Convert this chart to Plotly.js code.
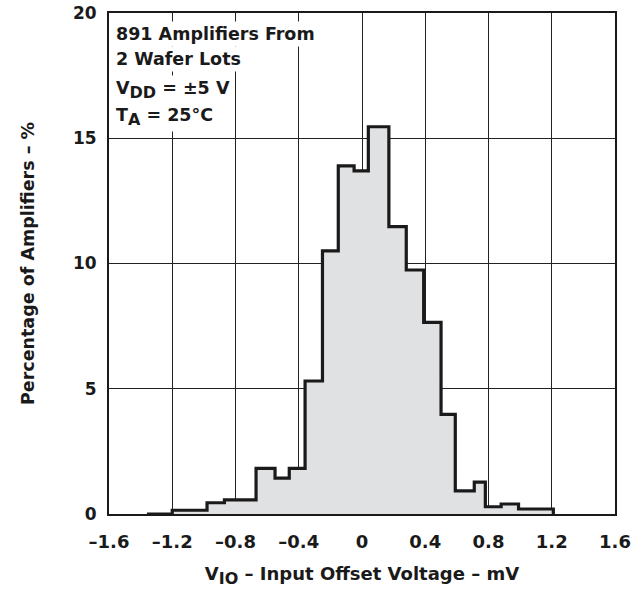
<!DOCTYPE html>
<html>
<head>
<meta charset="utf-8">
<script src="https://cdn.plot.ly/plotly-3.0.1.min.js"></script>
<style>html,body{margin:0;padding:0;background:#fff;}#chart{width:641px;height:593px;}</style>
</head>
<body>
<div id="chart"></div>
<script>
// Bin edges (mV)
const binEdges = [-1.36, -1.20, -0.98, -0.87, -0.67, -0.55, -0.46, -0.36, -0.25, -0.15, -0.05, 0.04, 0.17, 0.28, 0.39, 0.50, 0.59, 0.71, 0.78, 0.88, 0.99, 1.21];
// Percentage of amplifiers in each bin
const percentages = [0, 0.15, 0.45, 0.56, 1.82, 1.43, 1.82, 5.31, 10.5, 13.9, 13.7, 15.46, 11.47, 9.74, 7.65, 3.98, 0.92, 1.27, 0.29, 0.40, 0.20];
const xTickVals = [-1.6, -1.2, -0.8, -0.4, 0, 0.4, 0.8, 1.2, 1.6];
const xTickText = ["\u20131.6", "\u20131.2", "\u20130.8", "\u20130.4", "0", "0.4", "0.8", "1.2", "1.6"];
const yTickVals = [0, 5, 10, 15, 20];
const SUB = (s) => "<sub><span style='font-size:16px'>" + s + "</span></sub>";
const noteLines = ["891 Amplifiers From", "2 Wafer Lots", "V" + SUB("DD") + " = \u00b15 V", "T" + SUB("A") + " = 25\u00b0C"];

const xs = [binEdges[0]].concat(binEdges);
const ys = [0].concat(percentages).concat([0]);

const FONT = "DejaVu Sans";
const trace = {
  x: xs, y: ys, type: "scatter", mode: "lines",
  line: {shape: "hv", color: "#1a1a1a", width: 3.2},
  fill: "tozeroy", fillcolor: "#e0e1e3",
  hoverinfo: "skip", showlegend: false
};

const noteY = [0.958, 0.908, 0.846, 0.792];
const annotations = noteLines.map((t, i) => ({
  text: t, xref: "paper", yref: "paper", x: 0.008, y: noteY[i],
  xanchor: "left", yanchor: "middle", showarrow: false, align: "left",
  bgcolor: "#ffffff", borderpad: 2,
  font: {family: FONT, size: 17.5, weight: "bold", color: "#1a1a1a"}
}));

const layout = {
  width: 641, height: 593,
  margin: {l: 109, r: 26, t: 13, b: 79},
  paper_bgcolor: "#ffffff", plot_bgcolor: "#ffffff",
  showlegend: false,
  font: {family: FONT, size: 18, weight: "bold", color: "#1a1a1a"},
  xaxis: {
    range: [-1.6, 1.6], tickvals: xTickVals, ticktext: xTickText,
    showgrid: true, gridcolor: "#222222", gridwidth: 1,
    zeroline: false, showline: true, linecolor: "#1a1a1a", linewidth: 2, mirror: true,
    ticks: "", ticklabelstandoff: 10,
    tickfont: {family: FONT, size: 18, weight: "bold", color: "#1a1a1a"},
    title: {text: "V" + SUB("IO") + " \u2013 Input Offset Voltage \u2013 mV", standoff: 17,
            font: {family: FONT, size: 18, weight: "bold", color: "#1a1a1a"}}
  },
  yaxis: {
    range: [0, 20], tickvals: yTickVals,
    showgrid: true, gridcolor: "#222222", gridwidth: 1,
    zeroline: false, showline: true, linecolor: "#1a1a1a", linewidth: 2, mirror: true,
    ticks: "", ticklabelstandoff: 7,
    tickfont: {family: FONT, size: 17, weight: "bold", color: "#1a1a1a"},
    title: {text: "Percentage of Amplifiers \u2013 %", standoff: 34,
            font: {family: FONT, size: 17.5, weight: "bold", color: "#1a1a1a"}}
  },
  annotations: annotations
};

Plotly.newPlot("chart", [trace], layout, {staticPlot: true, displayModeBar: false});
</script>
</body>
</html>
